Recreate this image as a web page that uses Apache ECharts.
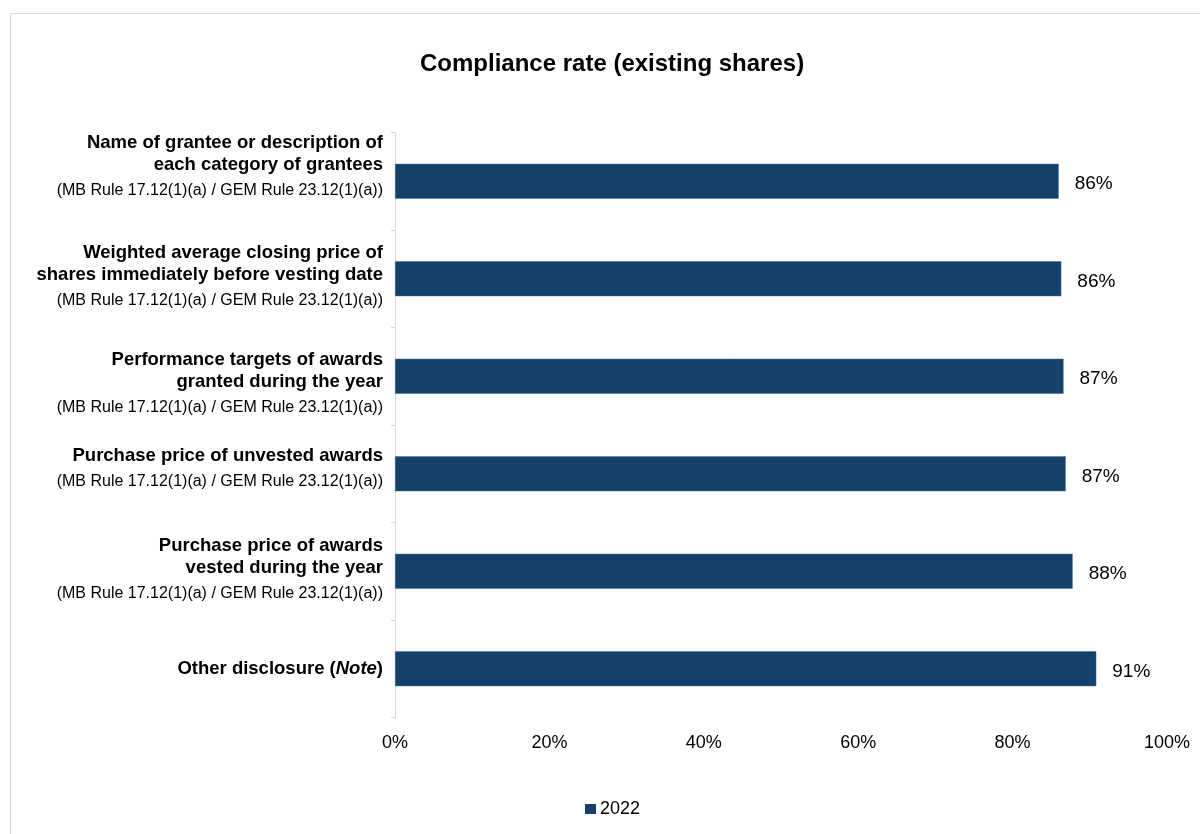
<!DOCTYPE html>
<html>
<head>
<meta charset="utf-8">
<script src="https://cdn.jsdelivr.net/npm/echarts@6/dist/echarts.min.js"></script>
<style>
  html, body { margin: 0; padding: 0; background: #fff; }
  #chart { width: 1200px; height: 834px; }
</style>
</head>
<body>
<div id="chart"></div>
<script>
// Disclosure items (top to bottom); headings are bold, rule references regular
const categories = [
  'Name of grantee or description of\neach category of grantees',
  'Weighted average closing price of\nshares immediately before vesting date',
  'Performance targets of awards\ngranted during the year',
  'Purchase price of unvested awards',
  'Purchase price of awards\nvested during the year',
  'Other disclosure (Note)'
];
const ruleRefs = [
  '(MB Rule 17.12(1)(a) / GEM Rule 23.12(1)(a))',
  '(MB Rule 17.12(1)(a) / GEM Rule 23.12(1)(a))',
  '(MB Rule 17.12(1)(a) / GEM Rule 23.12(1)(a))',
  '(MB Rule 17.12(1)(a) / GEM Rule 23.12(1)(a))',
  '(MB Rule 17.12(1)(a) / GEM Rule 23.12(1)(a))',
  ''
];
// Compliance rate in 2022 (%)
const rate2022 = [85.97, 86.31, 86.6, 86.88, 87.78, 90.84];
const seriesName = '2022';
const xTicks = [0, 20, 40, 60, 80, 100];

const BAR = '#15406a';
const FONT = '"Liberation Sans", Arial, sans-serif';

// small vertical nudges of each label block [top, bottom] padding
const labelPad = [[0, 25], [0, 0], [18, 0], [0, 6], [0, 0], [0, 0]];

function categoryLabel(value) {
  const i = categories.indexOf(value);
  let out;
  if (value.indexOf('(Note)') >= 0) {
    out = '{b|' + value.replace('(Note)', '(') + '}{bi|Note}{b|)}';
  } else {
    out = value.split('\n').map(l => '{b|' + l + '}').join('\n');
  }
  if (ruleRefs[i]) out += '\n{s|' + ruleRefs[i] + '}';
  return out;
}

const yData = categories.map((c, i) => ({
  value: c,
  textStyle: { padding: [labelPad[i][0], 0, labelPad[i][1], 0] }
}));

const chart = echarts.init(document.getElementById('chart'), null, { renderer: 'canvas' });
chart.setOption({
  animation: false,
  backgroundColor: '#ffffff',
  textStyle: { fontFamily: FONT },
  title: {
    text: 'Compliance rate (existing shares)',
    left: 415,
    top: 47,
    textStyle: { fontFamily: FONT, fontSize: 24, fontWeight: 'bold', color: '#000' }
  },
  graphic: [{
    type: 'rect',
    shape: { x: 10.5, y: 13.5, width: 1400, height: 1000 },
    style: { fill: 'none', stroke: '#d9d9d9', lineWidth: 1 },
    silent: true,
    z: -1
  }],
  legend: {
    data: [seriesName],
    left: 580,
    top: 795,
    icon: 'rect',
    itemWidth: 11,
    itemHeight: 10,
    itemStyle: { borderWidth: 0 },
    textStyle: { fontFamily: FONT, fontSize: 18, color: '#000', padding: [0, 0, 0, -1] }
  },
  grid: { left: 395, right: 33, top: 132.5, bottom: 116.5, containLabel: false },
  xAxis: {
    type: 'value',
    min: xTicks[0],
    max: xTicks[xTicks.length - 1],
    interval: 20,
    axisLine: { show: false },
    axisTick: { show: false },
    splitLine: { show: false },
    axisLabel: {
      formatter: '{value}%',
      fontFamily: FONT,
      fontSize: 18,
      color: '#000',
      margin: 17
    }
  },
  yAxis: {
    type: 'category',
    inverse: true,
    data: yData,
    axisLine: { show: true, lineStyle: { color: '#d9d9d9', width: 1 } },
    axisTick: { show: true, length: 4, lineStyle: { color: '#d9d9d9' } },
    axisLabel: {
      margin: 12,
      align: 'right',
      formatter: categoryLabel,
      rich: {
        b: { fontFamily: FONT, fontSize: 18.5, fontWeight: 'bold', color: '#000', lineHeight: 22, align: 'right' },
        bi: { fontFamily: FONT, fontSize: 18.5, fontWeight: 'bold', fontStyle: 'italic', color: '#000', lineHeight: 22, align: 'right' },
        s: { fontFamily: FONT, fontSize: 16, color: '#000', lineHeight: 29, align: 'right' }
      }
    }
  },
  series: [{
    name: seriesName,
    type: 'bar',
    data: rate2022,
    barWidth: 35,
    itemStyle: { color: BAR, borderColor: '#4a7099', borderWidth: 0.5 },
    label: {
      show: true,
      position: 'right',
      distance: 16,
      offset: [0, 3],
      formatter: p => Math.round(p.value) + '%',
      fontFamily: FONT,
      fontSize: 19,
      color: '#000'
    }
  }]
});
</script>
</body>
</html>
